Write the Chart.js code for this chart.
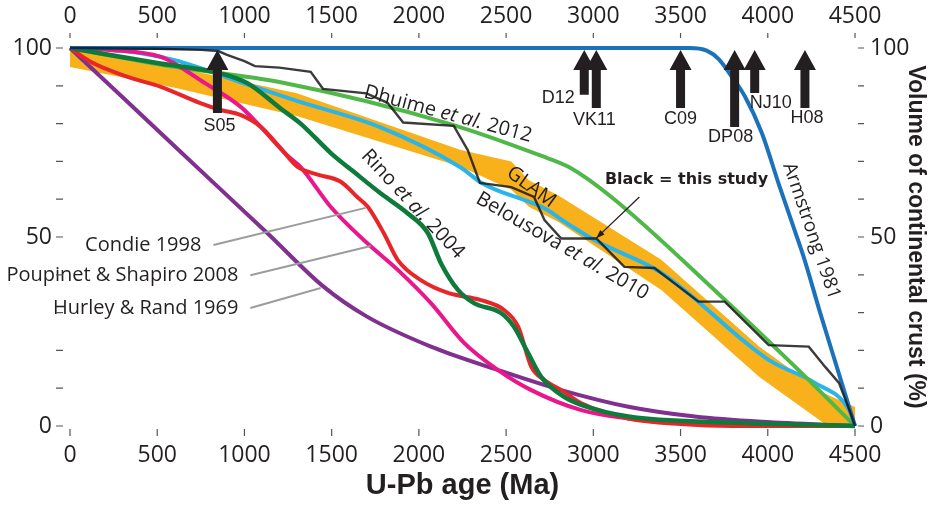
<!DOCTYPE html>
<html>
<head>
<meta charset="utf-8">
<script src="https://cdn.jsdelivr.net/npm/chart.js@4.4.1/dist/chart.umd.min.js"></script>
<style>
  html, body { margin: 0; padding: 0; background: #fff; }
  #wrap { width: 930px; height: 509px; }
</style>
</head>
<body>
<div id="wrap"><canvas id="crustChart" width="930" height="509"></canvas></div>
<script>
// valores: idade U-Pb (Ma) x volume acumulado de crosta continental (%)
var armstrongAge = [0, 3550, 3650, 3720, 3780, 3870, 3966, 4063, 4156, 4214, 4300, 4400, 4500];
var armstrongPct = [100, 100, 99.3, 97, 93.3, 87.1, 77.5, 64, 51.5, 43.5, 30, 15, 0];

var blackAge = [0, 500, 750, 850, 900, 1000, 1060, 1200, 1380, 1450, 1700, 1820, 1910, 2200, 2280, 2350, 2530, 2660, 2720, 2816, 3017, 3178, 3350, 3603, 3753, 4005, 4235, 4328, 4408, 4483, 4500];
var blackPct = [100, 99.8, 99.5, 99.2, 98.2, 96.5, 95.2, 94.8, 93.7, 89.2, 88, 85.5, 80.3, 79.4, 73, 64.3, 63.2, 60.6, 54.5, 49.6, 49.6, 42.1, 41.8, 32.9, 32.9, 21.4, 21, 15.7, 11.4, 2.4, 0];

var rinoAge = [0, 517, 862, 1017, 1207, 1322, 1500, 1620, 1782, 1935, 2052, 2127, 2224, 2316, 2471, 2546, 2626, 2701, 2833, 2931, 3201, 3776, 4500];
var rinoPct = [100, 95.9, 93.3, 90.7, 84, 80, 72, 67.5, 61.5, 56.3, 51, 43, 36, 32.5, 29.9, 26.2, 19.3, 13, 7.7, 5.6, 2.5, 0.9, 0];

var condieAge = [0, 115, 326, 517, 747, 862, 977, 1092, 1207, 1303, 1420, 1552, 1648, 1707, 1799, 1879, 2011, 2167, 2356, 2488, 2569, 2644, 2718, 2816, 2931, 3200, 3500, 3800, 4500];
var condiePct = [100, 96.4, 92.4, 89.8, 85.4, 83.6, 82.3, 79.2, 73.5, 68.6, 66.5, 64.6, 60.5, 58, 51, 43.9, 38.6, 35.2, 33.3, 30.7, 26.3, 15.7, 12.2, 9.5, 6, 2, 0.5, 0, 0];

var poupinetAge = [0, 230, 517, 632, 747, 977, 1092, 1247, 1322, 1494, 1684, 1879, 2069, 2259, 2454, 2644, 2931, 3200, 3500, 3900, 4500];
var poupinetPct = [100, 99.5, 97.7, 95, 91.5, 84.5, 79.2, 71.5, 68.5, 58, 49.2, 41.3, 32.5, 22, 14.8, 9.5, 4.2, 2, 0.8, 0.2, 0];

var dhuimeAge = [0, 600, 1200, 2170, 2700, 2860, 3100, 3735, 4156, 4500];
var dhuimePct = [100, 95, 91, 80, 71.5, 68.5, 60.7, 34.2, 15.7, 0];

var belousovaAge = [0, 300, 600, 1000, 1300, 1780, 2240, 2360, 2740, 2820, 3006, 3390, 4005, 4270, 4466, 4500];
var belousovaPct = [100, 99.3, 96.8, 90.6, 86, 79, 68.4, 64.3, 57.1, 54.5, 49.2, 40.5, 17.5, 11.4, 4.2, 0];

var hurleyAge = [0, 326, 632, 1132, 1450, 1700, 2069, 2454, 2816, 3201, 3582, 3966, 4500];
var hurleyPct = [100, 85.9, 72.6, 51, 37, 29, 21, 14.8, 9.5, 5.1, 2.5, 1.1, 0];

var glamAge = [0, 600, 1300, 2240, 2530, 2630, 2800, 3390, 3950, 4320, 4500];
var glamTop = [100, 95, 88, 73, 70, 65, 61, 44, 21, 8.7, 5];
var glamLowAge = [0, 600, 1300, 2240, 2530, 2630, 2800, 3390, 3950, 4320, 4380, 4500];
var glamLow = [95, 89.5, 82, 68.6, 62.5, 58, 54, 36, 13, 0.8, 0, 0];

// setas das idades publicadas
var markerAges = [845, 2948, 3017, 3500, 3810, 3925, 4213];
var markerBase = [82.8, 87.6, 84.1, 84.1, 79.1, 88.1, 84.1];
var markerLabels = ['S05', 'D12', 'VK11', 'C09', 'DP08', 'NJ10', 'H08'];
var markerTip = 99.5;

var ink = '#231f20';

function pts(ages, vals) {
    return ages.map(function (a, i) { return { x: a, y: vals[i] }; });
}

function curve(data, color, width, order) {
    return {
        data: data,
        borderColor: color,
        borderWidth: width,
        pointRadius: 0,
        fill: false,
        cubicInterpolationMode: 'monotone',
        clip: false,
        order: order
    };
}

// posições dos textos (em coordenadas dos dados) e ângulo na tela
var curveNotes = [
    { text: 'Dhuime et al. 2012', age: 2167, pct: 82.5, angle: 15, size: 20 },
    { text: 'Rino et al. 2004', age: 1965, pct: 58.7, angle: 47, size: 20 },
    { text: 'GLAM', age: 2644, pct: 63.2, angle: 36, size: 20 },
    { text: 'Belousova et al. 2010', age: 2822, pct: 47.6, angle: 30, size: 20 },
    { text: 'Armstrong 1981', age: 4250, pct: 51.6, angle: 71, size: 19 }
];
var leaderNotes = [
    { text: 'Condie 1998', from: [822, 47.9], to: [1695, 57.7] },
    { text: 'Poupinet & Shapiro 2008', from: [1034, 39.9], to: [1724, 47.6] },
    { text: 'Hurley & Rand 1969', from: [1034, 31.2], to: [1437, 36.5] }
];
var markerLabelOffset = [[2, 13.5], [-26, 3.5], [-2, 11.5], [0, 10.5], [-4, 10], [16, 10.5], [2, 10]];

function drawRich(ctx, text, x, y, angleDeg, size) {
    var parts = text.split(/(et al\.)/).filter(function (p) { return p.length; });
    ctx.save();
    ctx.translate(x, y);
    ctx.rotate(angleDeg * Math.PI / 180);
    ctx.fillStyle = ink;
    ctx.textBaseline = 'middle';
    ctx.textAlign = 'left';
    var fonts = parts.map(function (p) { return (p === 'et al.' ? 'italic ' : '') + size + 'px "Open Sans"'; });
    var widths = parts.map(function (p, k) { ctx.font = fonts[k]; return ctx.measureText(p).width; });
    var cx = -widths.reduce(function (a, b) { return a + b; }, 0) / 2;
    parts.forEach(function (p, k) { ctx.font = fonts[k]; ctx.fillText(p, cx, 0); cx += widths[k]; });
    ctx.restore();
}

function upArrow(ctx, x, yTip, yTail) {
    var shaft = 9, head = 22, headH = 20;
    ctx.beginPath();
    ctx.moveTo(x, yTip);
    ctx.lineTo(x + head / 2, yTip + headH);
    ctx.lineTo(x + shaft / 2, yTip + headH);
    ctx.lineTo(x + shaft / 2, yTail);
    ctx.lineTo(x - shaft / 2, yTail);
    ctx.lineTo(x - shaft / 2, yTip + headH);
    ctx.lineTo(x - head / 2, yTip + headH);
    ctx.closePath();
    ctx.fill();
}

var notesPlugin = {
    id: 'crustNotes',
    afterDatasetsDraw: function (chart) {
        var ctx = chart.ctx, sx = chart.scales.x, sy = chart.scales.y;
        ctx.save();

        // linhas de chamada
        ctx.strokeStyle = '#9c9c9c';
        ctx.lineWidth = 2;
        leaderNotes.forEach(function (n) {
            var x1 = sx.getPixelForValue(n.from[0]), y1 = sy.getPixelForValue(n.from[1]);
            ctx.beginPath();
            ctx.moveTo(x1, y1);
            ctx.lineTo(sx.getPixelForValue(n.to[0]), sy.getPixelForValue(n.to[1]));
            ctx.stroke();
            ctx.fillStyle = ink;
            ctx.font = '20px "Open Sans"';
            ctx.textAlign = 'right';
            ctx.textBaseline = 'middle';
            ctx.fillText(n.text, x1 - 12, y1);
        });

        curveNotes.forEach(function (n) {
            drawRich(ctx, n.text, sx.getPixelForValue(n.age), sy.getPixelForValue(n.pct), n.angle, n.size);
        });

        // "Black = this study" e a seta fina
        ctx.fillStyle = ink;
        ctx.font = 'bold 16px "DejaVu Sans"';
        ctx.textAlign = 'center';
        ctx.textBaseline = 'middle';
        ctx.fillText('Black = this study', sx.getPixelForValue(3534), sy.getPixelForValue(65.1));
        var ax1 = sx.getPixelForValue(3264), ay1 = sy.getPixelForValue(60.6);
        var ax2 = sx.getPixelForValue(3017), ay2 = sy.getPixelForValue(49.7);
        ctx.strokeStyle = ink;
        ctx.lineWidth = 1.3;
        ctx.beginPath();
        ctx.moveTo(ax1, ay1);
        ctx.lineTo(ax2, ay2);
        ctx.stroke();
        var ang = Math.atan2(ay2 - ay1, ax2 - ax1);
        ctx.beginPath();
        ctx.moveTo(ax2, ay2);
        ctx.lineTo(ax2 - 9 * Math.cos(ang - 0.35), ay2 - 9 * Math.sin(ang - 0.35));
        ctx.lineTo(ax2 - 9 * Math.cos(ang + 0.35), ay2 - 9 * Math.sin(ang + 0.35));
        ctx.closePath();
        ctx.fill();

        // setas grossas
        ctx.font = '18px "Liberation Sans"';
        markerAges.forEach(function (a, i) {
            var x = sx.getPixelForValue(a);
            var yTail = sy.getPixelForValue(markerBase[i]);
            upArrow(ctx, x, sy.getPixelForValue(markerTip), yTail);
            ctx.fillText(markerLabels[i], x + markerLabelOffset[i][0], yTail + markerLabelOffset[i][1]);
        });

        ctx.restore();
    },
    afterDraw: function (chart) {
        // marcas curtas dos eixos
        var ctx = chart.ctx, a = chart.chartArea;
        ctx.save();
        ctx.strokeStyle = '#555';
        ctx.lineWidth = 1.2;
        ctx.beginPath();
        chart.scales.y.ticks.forEach(function (t) {
            var y = chart.scales.y.getPixelForValue(t.value);
            ctx.moveTo(a.left - 14, y); ctx.lineTo(a.left - 7, y);
        });
        chart.scales.y2.ticks.forEach(function (t) {
            var y = chart.scales.y2.getPixelForValue(t.value);
            ctx.moveTo(a.right + 3, y); ctx.lineTo(a.right + 9, y);
        });
        chart.scales.x.ticks.forEach(function (t) {
            var x = chart.scales.x.getPixelForValue(t.value);
            ctx.moveTo(x, a.bottom + 3); ctx.lineTo(x, a.bottom + 10);
        });
        chart.scales.x2.ticks.forEach(function (t) {
            var x = chart.scales.x2.getPixelForValue(t.value);
            ctx.moveTo(x, a.top - 15); ctx.lineTo(x, a.top - 10);
        });
        ctx.stroke();
        ctx.restore();
    }
};

var tickFont = { family: 'Open Sans', size: 23 };

function pctLabel(v) { return v % 50 === 0 ? String(v) : ''; }
function ageLabel(v) { return String(v); }

var blackSet = curve(pts(blackAge, blackPct), 'rgba(25,25,25,0.85)', 2.4, 0);
blackSet.cubicInterpolationMode = 'default';
blackSet.tension = 0;

var ctx = document.getElementById('crustChart').getContext('2d');
var crustChart = new Chart(ctx, {
    type: 'line',
    data: {
        datasets: [
            curve(pts(armstrongAge, armstrongPct), '#1b72bb', 4, 1),
            blackSet,
            curve(pts(rinoAge, rinoPct), '#0e7a3c', 4.5, 2),
            curve(pts(condieAge, condiePct), '#e8262a', 4, 3),
            curve(pts(poupinetAge, poupinetPct), '#ea168b', 4, 4),
            curve(pts(dhuimeAge, dhuimePct), '#50b848', 4, 5),
            curve(pts(belousovaAge, belousovaPct), '#29b5e8', 4, 6),
            curve(pts(hurleyAge, hurleyPct), '#80308f', 4, 7),
            {
                data: pts(glamAge, glamTop),
                borderColor: 'transparent',
                borderWidth: 0,
                backgroundColor: '#f8b11b',
                pointRadius: 0,
                fill: '+1',
                clip: false,
                order: 9
            },
            {
                data: pts(glamLowAge, glamLow),
                borderColor: 'transparent',
                borderWidth: 0,
                pointRadius: 0,
                fill: false,
                clip: false,
                order: 10
            }
        ]
    },
    options: {
        responsive: false,
        animation: false,
        events: [],
        layout: { padding: 0 },
        plugins: { legend: { display: false }, tooltip: { enabled: false } },
        scales: {
            x: {
                type: 'linear', position: 'bottom', min: 0, max: 4500,
                grid: { display: false, drawTicks: false }, border: { display: false },
                ticks: { stepSize: 500, autoSkip: false, maxRotation: 0, padding: 16, color: ink, font: tickFont, callback: ageLabel },
                title: {
                    display: true, text: 'U-Pb age (Ma)', color: ink,
                    font: { family: 'Liberation Sans', size: 29, weight: 'bold' },
                    padding: { top: 0, bottom: 6 }
                },
                afterFit: function (s) { s.height = 83; }
            },
            x2: {
                type: 'linear', position: 'top', min: 0, max: 4500,
                grid: { display: false, drawTicks: false }, border: { display: false },
                ticks: { stepSize: 500, autoSkip: false, maxRotation: 0, padding: 18, color: ink, font: tickFont, callback: ageLabel },
                afterFit: function (s) { s.height = 48; }
            },
            y: {
                type: 'linear', position: 'left', min: 0, max: 100,
                grid: { display: false, drawTicks: false }, border: { display: false },
                ticks: { stepSize: 10, autoSkip: false, padding: 18, color: ink, font: tickFont, callback: pctLabel },
                afterFit: function (s) { s.width = 70; }
            },
            y2: {
                type: 'linear', position: 'right', min: 0, max: 100,
                grid: { display: false, drawTicks: false }, border: { display: false },
                ticks: { stepSize: 10, autoSkip: false, padding: 15, color: ink, font: tickFont, callback: pctLabel },
                title: {
                    display: true, text: 'Volume of continental crust (%)', color: ink,
                    font: { family: 'Liberation Sans', size: 23, weight: 'bold' },
                    padding: { top: 1, bottom: 0 }
                },
                afterFit: function (s) { s.width = 75; }
            }
        }
    },
    plugins: [notesPlugin]
});
</script>
</body>
</html>
